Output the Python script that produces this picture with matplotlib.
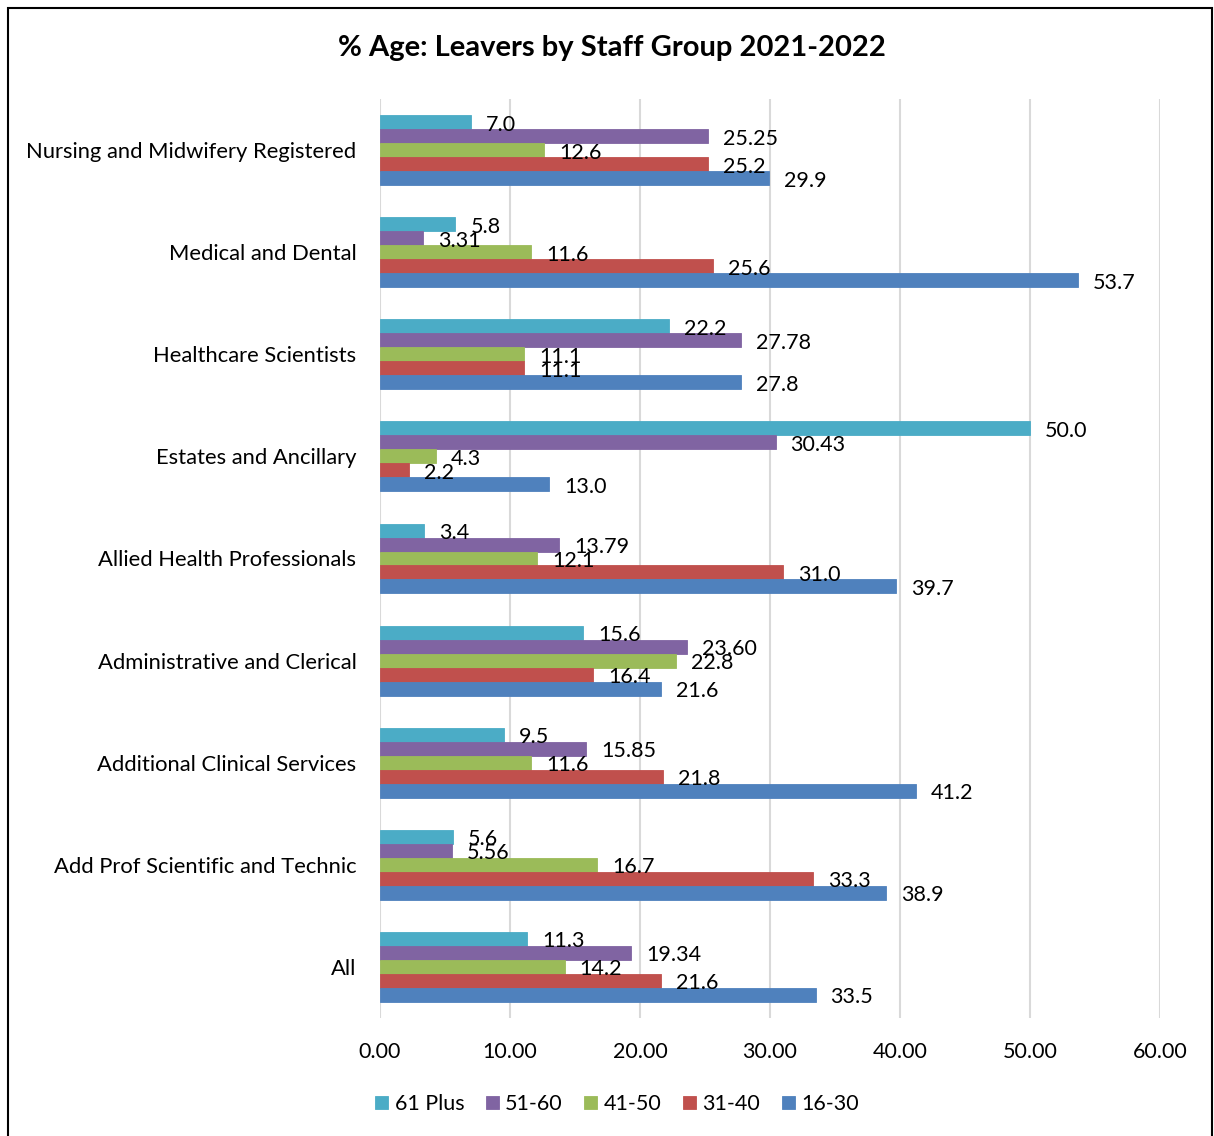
import matplotlib
matplotlib.use("Agg")
import matplotlib.pyplot as plt
from matplotlib.patches import Rectangle
import numpy as np

plt.rcParams['font.family'] = ['Lato', 'DejaVu Sans']

categories = [
    "Nursing and Midwifery Registered",
    "Medical and Dental",
    "Healthcare Scientists",
    "Estates and Ancillary",
    "Allied Health Professionals",
    "Administrative and Clerical",
    "Additional Clinical Services",
    "Add Prof Scientific and Technic",
    "All",
]
series_names = ["61 Plus", "51-60", "41-50", "31-40", "16-30"]
age_61_plus = [7.0, 5.8, 22.2, 50.0, 3.4, 15.6, 9.5, 5.6, 11.3]
age_51_60 = [25.25, 3.31, 27.78, 30.43, 13.79, 23.60, 15.85, 5.56, 19.34]
age_41_50 = [12.6, 11.6, 11.1, 4.3, 12.1, 22.8, 11.6, 16.7, 14.2]
age_31_40 = [25.2, 25.6, 11.1, 2.2, 31.0, 16.4, 21.8, 33.3, 21.6]
age_16_30 = [29.9, 53.7, 27.8, 13.0, 39.7, 21.6, 41.2, 38.9, 33.5]
label_formats = ["{:.1f}", "{:.2f}", "{:.1f}", "{:.1f}", "{:.1f}"]
x_ticks = [0, 10, 20, 30, 40, 50, 60]

series_values = [age_61_plus, age_51_60, age_41_50, age_31_40, age_16_30]
colors = ["#4BACC6", "#8064A2", "#9BBB59", "#C0504D", "#4F81BD"]

W, H = 1214, 1136
fig = plt.figure(figsize=(W / 100, H / 100), dpi=100)
ax = fig.add_axes([380 / W, 1 - 1018 / H, (1160 - 380) / W, (1018 - 99) / H])

n = len(categories)
y = np.arange(n)[::-1].astype(float)  # first category at the top
bar_h = 0.137
offsets = [2, 1, 0, -1, -2]

for vals, name, col, off, fmt in zip(series_values, series_names, colors, offsets, label_formats):
    pos = y + off * bar_h
    bars = ax.barh(pos, vals, height=bar_h, color=col, label=name,
                   edgecolor=col, linewidth=0.6)
    for b, v in zip(bars, vals):
        ax.annotate(fmt.format(v), xy=(v, b.get_y() + b.get_height() / 2),
                    xytext=(15, -2.5), textcoords="offset pixels",
                    ha="left", va="center", fontsize=15.5, color="black")

ax.set_xlim(0, 60)
ax.set_ylim(-0.5, n - 0.5)
ax.set_xticks(x_ticks)
ax.set_xticklabels([f"{t:.2f}" for t in x_ticks], fontsize=15.5)
ax.set_yticks(y)
ax.set_yticklabels(categories, fontsize=15.8)
ax.tick_params(axis="both", length=0)
ax.tick_params(axis="x", pad=17)
ax.tick_params(axis="y", pad=17)
ax.grid(axis="x", color="#D9D9D9", linewidth=1.5)
ax.set_axisbelow(True)
for s in ax.spines.values():
    s.set_visible(False)

fig.text(612 / W, 1 - 48 / H, "% Age: Leavers by Staff Group 2021-2022",
         ha="center", va="center", fontsize=21, fontweight="bold")

leg = fig.legend(loc="center", bbox_to_anchor=(617 / W, 1 - 1104 / H), ncol=5,
                 frameon=False, fontsize=15.5, handlelength=0.6, handleheight=0.6,
                 handletextpad=0.3, columnspacing=1.0)

# outer chart border
fig.add_artist(Rectangle((8 / W, -0.01), (1212 - 8) / W, 1.01 - 8 / H,
                         transform=fig.transFigure, fill=False,
                         edgecolor="black", linewidth=1.5))

fig.savefig("out.png", dpi=100)
